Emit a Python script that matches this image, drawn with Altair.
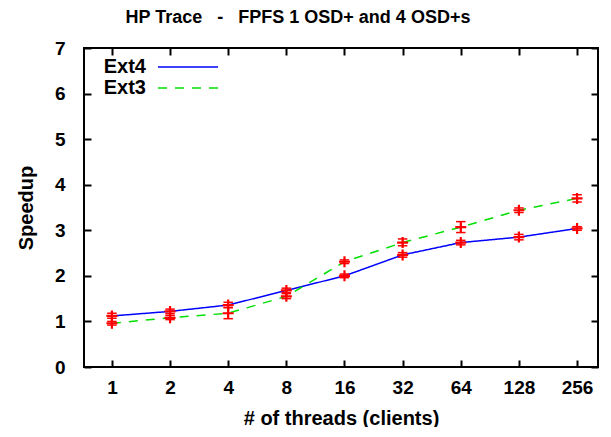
import altair as alt
import pandas as pd

threads = [1, 2, 4, 8, 16, 32, 64, 128, 256]
series_names = ["Ext4", "Ext3"]
ext4_mean = [1.12, 1.22, 1.36, 1.68, 2.00, 2.46, 2.73, 2.85, 3.04]
ext4_low = [1.07, 1.17, 1.31, 1.63, 1.96, 2.41, 2.68, 2.79, 3.00]
ext4_high = [1.18, 1.27, 1.42, 1.73, 2.04, 2.51, 2.78, 2.91, 3.08]
ext3_mean = [0.96, 1.08, 1.18, 1.55, 2.31, 2.73, 3.07, 3.44, 3.70]
ext3_low = [0.92, 1.04, 1.06, 1.50, 2.27, 2.66, 2.95, 3.39, 3.62]
ext3_high = [1.00, 1.13, 1.30, 1.61, 2.35, 2.81, 3.19, 3.49, 3.78]
x_tick_values = [0, 1, 2, 3, 4, 5, 6, 7, 8]
y_tick_values = [0, 1, 2, 3, 4, 5, 6, 7]
title_text = ["HP Trace\u00a0\u00a0\u00a0-\u00a0\u00a0\u00a0FPFS 1 OSD+ and 4 OSD+s"]

rows = []
for name, m, lo, hi in [("Ext4", ext4_mean, ext4_low, ext4_high),
                        ("Ext3", ext3_mean, ext3_low, ext3_high)]:
    for t, a, b, c in zip(threads, m, lo, hi):
        rows.append({"series": name, "threads": t, "mean": a, "low": b, "high": c})
df = pd.DataFrame(rows)

FONT = "Liberation Sans"
W, H = 514, 319
TICK = 7

xscale = alt.Scale(domain=[-0.48, 8.36], nice=False, zero=False)
yscale = alt.Scale(domain=[0, 7], nice=False, zero=True)

base = alt.Chart(df).transform_calculate(xi="log(datum.threads)/LN2")

x_bottom = alt.Axis(orient="bottom", values=x_tick_values,
                    labelExpr="pow(2, datum.value)", title="# of threads (clients)",
                    offset=-TICK, tickSize=TICK, tickWidth=2, tickColor="black",
                    domain=False, grid=False, labelPadding=11,
                    labelFont=FONT, labelFontWeight="bold", labelFontSize=19,
                    labelColor="black", titleFont=FONT, titleFontWeight="bold",
                    titleFontSize=20, titleColor="black", titlePadding=11)
y_left = alt.Axis(orient="left", values=y_tick_values, title="Speedup",
                  offset=-TICK, tickSize=TICK, tickWidth=2, tickColor="black",
                  domain=False, grid=False, labelPadding=19,
                  labelFont=FONT, labelFontWeight="bold", labelFontSize=19,
                  labelColor="black", titleFont=FONT, titleFontWeight="bold",
                  titleFontSize=20, titleColor="black", titlePadding=18)
x_top = alt.Axis(orient="top", values=x_tick_values, title=None, labels=False,
                 offset=-TICK, tickSize=TICK, tickWidth=2, tickColor="black",
                 domain=False, grid=False)
y_right = alt.Axis(orient="right", values=y_tick_values, title=None, labels=False,
                   offset=-TICK, tickSize=TICK, tickWidth=2, tickColor="black",
                   domain=False, grid=False)

color = alt.Color("series:N", scale=alt.Scale(domain=series_names,
                                               range=["#0000ff", "#00e000"]), legend=None)
dash = alt.StrokeDash("series:N", scale=alt.Scale(domain=series_names,
                                                   range=[[1, 0], [9, 8]]), legend=None)

lines = base.mark_line(strokeWidth=1.5).encode(
    x=alt.X("xi:Q", scale=xscale, axis=x_bottom),
    y=alt.Y("mean:Q", scale=yscale, axis=y_left),
    color=color, strokeDash=dash, detail="series:N",
)

err = base.mark_rule(color="#ff0000", strokeWidth=1.5).encode(
    x=alt.X("xi:Q", scale=xscale, axis=x_top),
    y=alt.Y("low:Q", scale=yscale, axis=y_right),
    y2="high:Q",
)

cap_shape = "M -1 0 L 1 0"
cap_low = base.mark_point(shape=cap_shape, filled=False, size=90, color="#ff0000",
                          strokeWidth=1.5, opacity=1).encode(
    x=alt.X("xi:Q", scale=xscale, axis=None),
    y=alt.Y("low:Q", scale=yscale, axis=None),
)
cap_high = base.mark_point(shape=cap_shape, filled=False, size=90, color="#ff0000",
                           strokeWidth=1.5, opacity=1).encode(
    x=alt.X("xi:Q", scale=xscale, axis=None),
    y=alt.Y("high:Q", scale=yscale, axis=None),
)
plus = base.mark_point(shape="M -1 0 L 1 0 M 0 -1 L 0 1", filled=False, size=121,
                       color="#ff0000", strokeWidth=2.2, opacity=1).encode(
    x=alt.X("xi:Q", scale=xscale, axis=None),
    y=alt.Y("mean:Q", scale=yscale, axis=None),
)

leg_df = pd.DataFrame({"series": series_names})
leg_text4 = alt.Chart(leg_df).transform_filter("datum.series == 'Ext4'").mark_text(
    align="right", baseline="middle", font=FONT, fontWeight="bold", fontSize=20,
    color="black").encode(text="series:N", x=alt.value(62), y=alt.value(19))
leg_text3 = alt.Chart(leg_df).transform_filter("datum.series == 'Ext3'").mark_text(
    align="right", baseline="middle", font=FONT, fontWeight="bold", fontSize=20,
    color="black").encode(text="series:N", x=alt.value(62), y=alt.value(40))
leg_line4 = alt.Chart(leg_df).transform_filter("datum.series == 'Ext4'").mark_rule(
    color="#0000ff", strokeWidth=1.5).encode(
    x=alt.value(74), x2=alt.value(134), y=alt.value(19))
leg_line3 = alt.Chart(leg_df).transform_filter("datum.series == 'Ext3'").mark_rule(
    color="#00e000", strokeWidth=1.5, strokeDash=[9, 8]).encode(
    x=alt.value(74), x2=alt.value(134), y=alt.value(40))

title_mark = alt.Chart(pd.DataFrame({"t": title_text})).mark_text(
    align="center", baseline="alphabetic", font=FONT, fontWeight="bold", fontSize=18,
    color="black").encode(text="t:N", x=alt.value(214), y=alt.value(-25))

chart = alt.layer(
    lines, err, cap_low, cap_high, plus,
    leg_text4, leg_text3, leg_line4, leg_line3, title_mark,
).resolve_axis(x="independent", y="independent").properties(
    width=W, height=H,
    autosize=alt.AutoSizeParams(type="none"),
    padding={"left": 76, "top": 40, "right": 5, "bottom": 60},
).configure_view(stroke="black", strokeWidth=2)

chart.save("out.html", embed_options={"renderer": "svg", "actions": False})
